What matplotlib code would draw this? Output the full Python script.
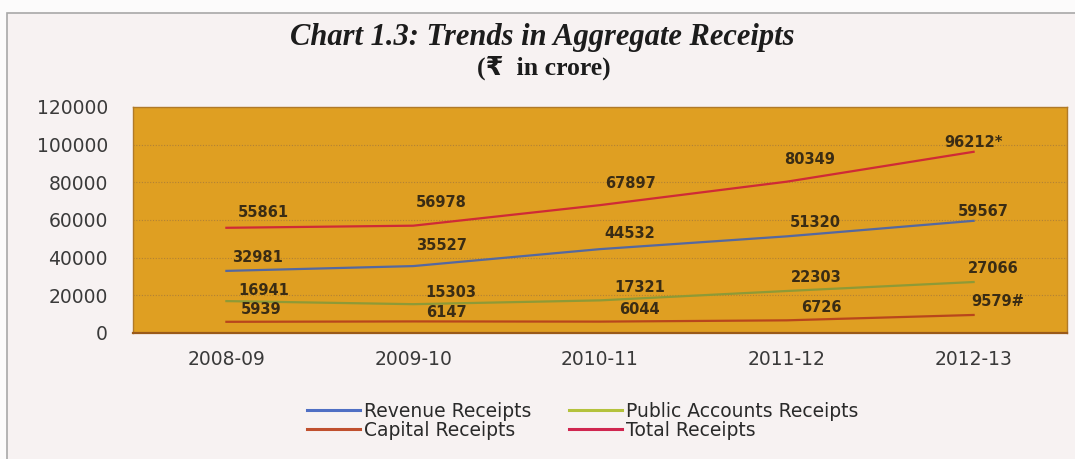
import matplotlib.pyplot as plt
from matplotlib.patches import Rectangle

# Aggregate receipts (Rs in crore)
years = ["2008-09", "2009-10", "2010-11", "2011-12", "2012-13"]
revenue = [32981, 35527, 44532, 51320, 59567]
public_accounts = [16941, 15303, 17321, 22303, 27066]
capital = [5939, 6147, 6044, 6726, 9579]
total = [55861, 56978, 67897, 80349, 96212]

# footnote marks on the last year's labels
total_marks = ["", "", "", "", "*"]
capital_marks = ["", "", "", "", "#"]

# label offsets in pixels (dx, dy) from each point
rev_off = [(31, 13), (28, 21), (30, 16), (29, 14), (10, 9)]
pub_off = [(37, 11), (38, 12), (40, 13), (29, 13), (20, 14)]
cap_off = [(35, 12), (33, 9), (39, 12), (35, 13), (24, 13)]
tot_off = [(37, 15), (28, 23), (30, 22), (23, 22), (0, 9)]

fig = plt.figure(figsize=(10.75, 4.59), dpi=100)
fig.patch.set_facecolor("#fcfbfb")
fig.patches.append(Rectangle((7 / 1075, -0.1), 1.2, 1 - 13 / 459 + 0.1,
                             transform=fig.transFigure, facecolor="#f7f2f2",
                             edgecolor="#a8a8a8", linewidth=1.2, zorder=-1))

ax = fig.add_axes([133 / 1075, 1 - 333 / 459, (1067 - 133) / 1075, (333 - 107) / 459])
ax.set_facecolor("#df9f22")
x = range(len(years))

series = [
    (revenue, "Revenue Receipts", "#5468a0", rev_off, None),
    (capital, "Capital Receipts", "#b8461c", cap_off, capital_marks),
    (public_accounts, "Public Accounts Receipts", "#8e9a36", pub_off, None),
    (total, "Total Receipts", "#cf2a36", tot_off, total_marks),
]
legend_colors = {"Revenue Receipts": "#4f6fc4", "Capital Receipts": "#c0502e",
                 "Public Accounts Receipts": "#b4c23c", "Total Receipts": "#d02650"}

handles = []
for vals, name, col, offs, marks in series:
    ax.plot(x, vals, color=col, lw=1.6, zorder=3)
    h, = ax.plot([], [], color=legend_colors[name], lw=2.2, label=name)
    handles.append(h)
    for i, v in enumerate(vals):
        txt = str(v) + (marks[i] if marks else "")
        ax.annotate(txt, (i, v), xytext=offs[i], textcoords="offset pixels",
                    ha="center", va="center", fontsize=10.5, fontweight="bold",
                    family="DejaVu Sans", color="#3a2c14", zorder=4)

ax.set_xlim(-0.5, 4.5)
ax.set_ylim(0, 120000)
ax.set_yticks(range(0, 120001, 20000))
ax.set_xticks(list(x))
ax.set_xticklabels(years)
ax.tick_params(length=0, labelsize=13.5, labelcolor="#3a3a3a", pad=12)
ax.tick_params(axis="y", pad=18)
for lab in ax.get_xticklabels() + ax.get_yticklabels():
    lab.set_family("DejaVu Sans")
ax.yaxis.grid(True, linestyle=(0, (1, 1.5)), color="#a67a3a", linewidth=0.8, alpha=0.8)
ax.set_axisbelow(True)
for s in ax.spines.values():
    s.set_color("#b07a28")
    s.set_linewidth(1.0)
ax.spines["bottom"].set_color("#9a5a1a")
ax.spines["bottom"].set_linewidth(1.6)

fig.text(542 / 1075, 1 - 37 / 459, "Chart 1.3: Trends in Aggregate Receipts",
         ha="center", va="center", fontsize=22, fontweight="bold", style="italic",
         family=["Liberation Serif", "DejaVu Serif"], color="#1c1c1c")
fig.text(544 / 1075, 1 - 68 / 459, "(\u20b9  in crore)",
         ha="center", va="center", fontsize=18.5, fontweight="bold",
         family=["Liberation Serif", "DejaVu Sans"], color="#1c1c1c")

leg = fig.legend(handles=handles, loc="center", bbox_to_anchor=(583 / 1075, 1 - 421 / 459),
                 ncol=2, frameon=False, prop={"family": "DejaVu Sans", "size": 13.5},
                 handlelength=2.8, handletextpad=0.25, columnspacing=2.0,
                 labelspacing=0.0, borderpad=0)
for t in leg.get_texts():
    t.set_color("#2a2a2a")

fig.savefig("out.png", dpi=100, facecolor=fig.get_facecolor())
